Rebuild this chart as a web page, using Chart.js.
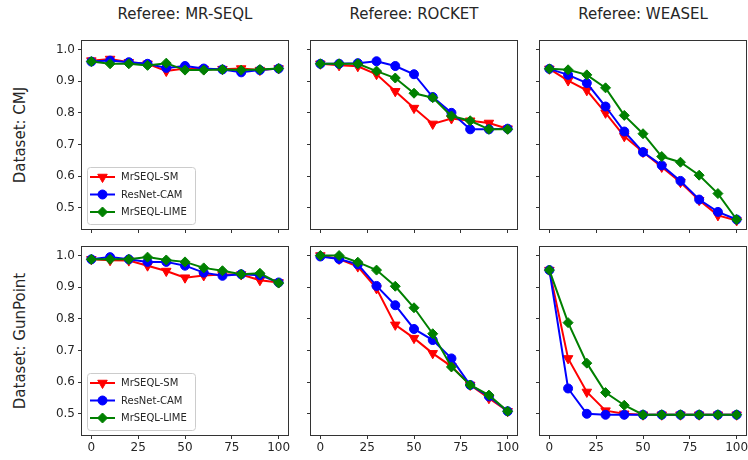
<!DOCTYPE html>
<html>
<head>
<meta charset="utf-8">
<script src="https://cdn.jsdelivr.net/npm/chart.js@4.4.0/dist/chart.umd.min.js"></script>
<style>
  body { margin: 0; width: 748px; height: 460px; overflow: hidden; background: #fff; position: relative; font-family: "DejaVu Sans", sans-serif; }
  canvas { position: absolute; }
  .title { position: absolute; font-size: 15px; line-height: 16px; color: #262626; text-align: center; white-space: nowrap; }
  .rowlab { position: absolute; font-size: 15px; line-height: 16px; color: #262626; text-align: center; white-space: nowrap; transform: rotate(-90deg); }
</style>
</head>
<body>
<script>
// x axis: percentage of the series that was changed
const percents = [0, 10, 20, 30, 40, 50, 60, 70, 80, 90, 100];
const xTickValues = [0, 25, 50, 75, 100];
const yTickValues = [0.5, 0.6, 0.7, 0.8, 0.9, 1.0];
const referees = ['MR-SEQL', 'ROCKET', 'WEASEL'];
const datasetNames = ['CMJ', 'GunPoint'];
const methods = ['MrSEQL-SM', 'ResNet-CAM', 'MrSEQL-LIME'];

// CMJ
const cmjMrseqlSM   = [0.965, 0.970, 0.960, 0.955, 0.932, 0.940, 0.938, 0.938, 0.940, 0.935, 0.940];
const cmjMrseqlCAM  = [0.962, 0.965, 0.960, 0.955, 0.942, 0.948, 0.940, 0.937, 0.928, 0.935, 0.940];
const cmjMrseqlLIME = [0.962, 0.955, 0.955, 0.950, 0.957, 0.935, 0.935, 0.937, 0.935, 0.937, 0.940];
const cmjRocketSM   = [0.955, 0.950, 0.947, 0.922, 0.868, 0.815, 0.765, 0.782, 0.775, 0.768, 0.750];
const cmjRocketCAM  = [0.955, 0.955, 0.957, 0.963, 0.948, 0.922, 0.850, 0.800, 0.748, 0.748, 0.750];
const cmjRocketLIME = [0.955, 0.955, 0.955, 0.932, 0.910, 0.862, 0.848, 0.790, 0.775, 0.748, 0.748];
const cmjWeaselSM   = [0.939, 0.902, 0.871, 0.800, 0.726, 0.676, 0.629, 0.581, 0.524, 0.476, 0.460];
const cmjWeaselCAM  = [0.939, 0.920, 0.894, 0.820, 0.741, 0.676, 0.634, 0.585, 0.526, 0.487, 0.463];
const cmjWeaselLIME = [0.939, 0.936, 0.920, 0.879, 0.792, 0.734, 0.662, 0.644, 0.603, 0.545, 0.463];

// GunPoint
const gpMrseqlSM   = [0.988, 0.985, 0.984, 0.968, 0.951, 0.930, 0.937, 0.940, 0.940, 0.922, 0.915];
const gpMrseqlCAM  = [0.988, 0.995, 0.988, 0.980, 0.980, 0.968, 0.946, 0.936, 0.941, 0.938, 0.915];
const gpMrseqlLIME = [0.988, 0.988, 0.988, 0.995, 0.986, 0.980, 0.961, 0.952, 0.941, 0.944, 0.913];
const gpRocketSM   = [1.000, 0.989, 0.965, 0.896, 0.781, 0.739, 0.691, 0.650, 0.591, 0.549, 0.508];
const gpRocketCAM  = [0.997, 0.989, 0.972, 0.904, 0.843, 0.768, 0.733, 0.675, 0.591, 0.555, 0.508];
const gpRocketLIME = [1.000, 1.000, 0.979, 0.954, 0.903, 0.835, 0.753, 0.648, 0.591, 0.559, 0.508];
const gpWeaselSM   = [0.954, 0.675, 0.569, 0.510, 0.500, 0.497, 0.497, 0.497, 0.497, 0.497, 0.497];
const gpWeaselCAM  = [0.954, 0.580, 0.500, 0.497, 0.497, 0.497, 0.497, 0.497, 0.497, 0.497, 0.497];
const gpWeaselLIME = [0.954, 0.788, 0.660, 0.567, 0.527, 0.497, 0.497, 0.497, 0.497, 0.497, 0.497];

const panels = [
    [[cmjMrseqlSM, cmjMrseqlCAM, cmjMrseqlLIME], [cmjRocketSM, cmjRocketCAM, cmjRocketLIME], [cmjWeaselSM, cmjWeaselCAM, cmjWeaselLIME]],
    [[gpMrseqlSM, gpMrseqlCAM, gpMrseqlLIME], [gpRocketSM, gpRocketCAM, gpRocketLIME], [gpWeaselSM, gpWeaselCAM, gpWeaselLIME]]
];

const colors = ['#ff0000', '#0000ff', '#008000'];
const markers = ['triangle', 'circle', 'rectRot'];
const markerRot = [180, 0, 0];
const markerSize = [5.5, 4.5, 5];

// axes boxes (plot area) in page pixels
const boxLeft = [82, 311, 540];
const boxTop = [41, 247];
const boxW = 206, boxH = 188;
const yAxisW = 45, xAxisH = 26, padTop = 12, padRight = 20;
const textColor = '#262626';
const font = "'DejaVu Sans', sans-serif";

const framePlugin = {
    id: 'frame',
    afterDraw(chart) {
        const ctx = chart.ctx, a = chart.chartArea;
        ctx.save();
        ctx.strokeStyle = '#333';
        ctx.lineWidth = 1;
        ctx.strokeRect(Math.round(a.left) - 0.5, Math.round(a.top) - 0.5,
            Math.round(a.right - a.left) + 1, Math.round(a.bottom - a.top) + 1);
        ctx.restore();
    }
};

const legendPlugin = {
    id: 'innerLegend',
    afterDraw(chart) {
        const ctx = chart.ctx, a = chart.chartArea;
        const bw = 108, bh = 57;
        const bx = a.left + 5, by = a.bottom - 5 - bh;
        ctx.save();
        ctx.beginPath();
        ctx.roundRect(bx + 0.5, by + 0.5, bw, bh, 3);
        ctx.fillStyle = 'rgba(255,255,255,0.8)';
        ctx.fill();
        ctx.strokeStyle = '#cccccc';
        ctx.lineWidth = 1;
        ctx.stroke();
        chart.data.datasets.forEach((ds, k) => {
            const y = by + 10 + k * 17.5;
            ctx.strokeStyle = ds.borderColor;
            ctx.fillStyle = ds.borderColor;
            ctx.lineWidth = 2;
            ctx.beginPath();
            ctx.moveTo(bx + 3, y);
            ctx.lineTo(bx + 28, y);
            ctx.stroke();
            ctx.lineWidth = 1;
            Chart.helpers.drawPoint(ctx, {
                pointStyle: ds.pointStyle, rotation: ds.pointRotation,
                radius: ds.pointRadius, borderWidth: 1
            }, bx + 15.5, y);
            ctx.fillStyle = textColor;
            ctx.font = "10px " + font;
            ctx.textBaseline = 'middle';
            ctx.fillText(ds.label, bx + 34, y + 0.5);
        });
        ctx.restore();
    }
};

function addText(cls, text, left, top, width) {
    const d = document.createElement('div');
    d.className = cls;
    d.textContent = text;
    d.style.left = left + 'px';
    d.style.top = top + 'px';
    d.style.width = width + 'px';
    document.body.appendChild(d);
}

referees.forEach((r, c) => addText('title', 'Referee: ' + r, boxLeft[c], 6, boxW));
datasetNames.forEach((n, r) => addText('rowlab', 'Dataset: ' + n, 20 - 100, boxTop[r] + boxH / 2 - 8, 200));

panels.forEach((row, r) => {
    row.forEach((series, c) => {
        const canvas = document.createElement('canvas');
        const w = yAxisW + boxW + padRight, h = padTop + boxH + xAxisH;
        canvas.width = w;
        canvas.height = h;
        canvas.style.width = w + 'px';
        canvas.style.height = h + 'px';
        canvas.style.left = (boxLeft[c] - yAxisW) + 'px';
        canvas.style.top = (boxTop[r] - padTop) + 'px';
        document.body.appendChild(canvas);

        new Chart(canvas, {
            type: 'line',
            data: {
                datasets: methods.map((m, k) => ({
                    label: m,
                    data: percents.map((p, i) => ({ x: p, y: series[k][i] })),
                    borderColor: colors[k],
                    backgroundColor: colors[k],
                    borderWidth: 2,
                    pointStyle: markers[k],
                    pointRotation: markerRot[k],
                    pointRadius: markerSize[k],
                    pointHoverRadius: markerSize[k],
                    pointBorderWidth: 1,
                    tension: 0,
                    order: 3 - k
                }))
            },
            options: {
                responsive: false,
                animation: false,
                devicePixelRatio: 1,
                events: [],
                layout: { padding: { left: 0, top: padTop, right: padRight, bottom: 0 } },
                plugins: { legend: { display: false }, tooltip: { enabled: false } },
                scales: {
                    x: {
                        type: 'linear', min: -5, max: 105,
                        afterBuildTicks: s => { s.ticks = xTickValues.map(v => ({ value: v })); },
                        afterFit: s => { s.height = xAxisH; },
                        ticks: {
                            callback: v => (r === 1 ? String(v) : ''),
                            font: { family: font, size: 12 }, color: textColor,
                            padding: 2, maxRotation: 0, autoSkip: false
                        },
                        grid: { drawOnChartArea: false, drawTicks: true, tickLength: 4, color: '#333' },
                        border: { display: false }
                    },
                    y: {
                        type: 'linear', min: 0.433, max: 1.027,
                        afterBuildTicks: s => { s.ticks = yTickValues.map(v => ({ value: v })); },
                        afterFit: s => { s.width = yAxisW; },
                        ticks: {
                            callback: v => (c === 0 ? v.toFixed(1) : ''),
                            font: { family: font, size: 12 }, color: textColor,
                            padding: 3, autoSkip: false
                        },
                        grid: { drawOnChartArea: false, drawTicks: true, tickLength: 4, color: '#333' },
                        border: { display: false }
                    }
                }
            },
            plugins: c === 0 ? [framePlugin, legendPlugin] : [framePlugin]
        });
    });
});
</script>
</body>
</html>
